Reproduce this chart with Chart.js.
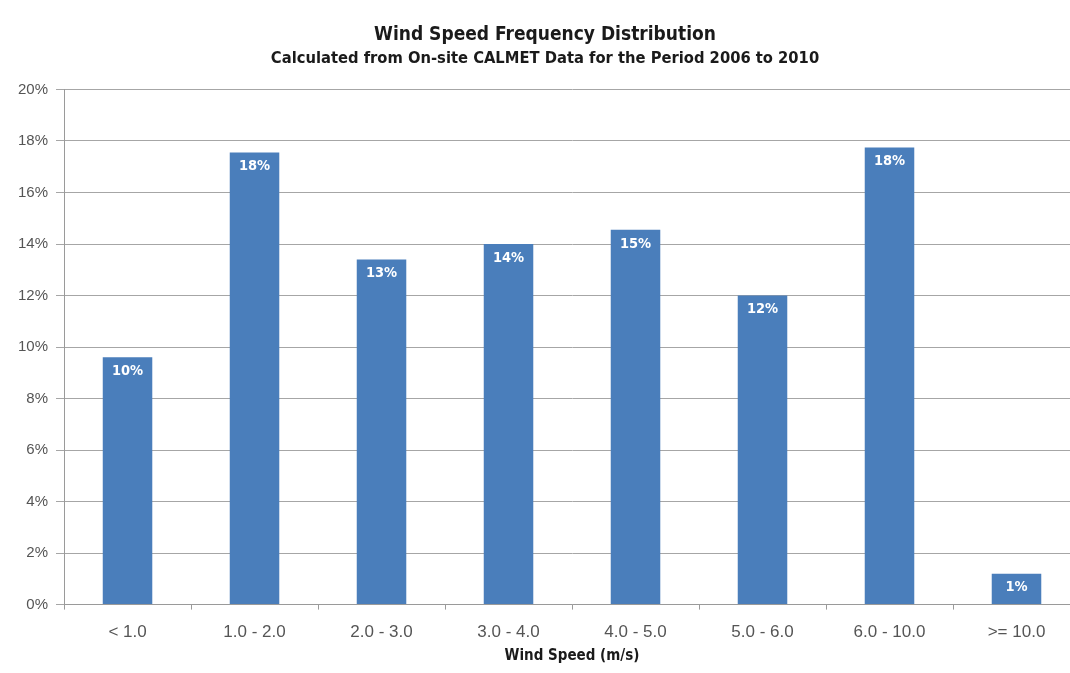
<!DOCTYPE html>
<html>
<head>
<meta charset="utf-8">
<script src="https://cdn.jsdelivr.net/npm/chart.js@4/dist/chart.umd.min.js"></script>
<style>
  html, body { margin: 0; padding: 0; background: #ffffff; }
  #wrap { width: 1070px; height: 673px; overflow: hidden; position: relative; }
  canvas { display: block; }
</style>
</head>
<body>
<div id="wrap"><canvas id="chart" width="1092" height="673"></canvas></div>
<script>
// Wind speed classes (m/s) and share of hours in each class (%)
const categories = ['< 1.0', '1.0 - 2.0', '2.0 - 3.0', '3.0 - 4.0', '4.0 - 5.0', '5.0 - 6.0', '6.0 - 10.0', '>= 10.0'];
const frequency = [9.6, 17.55, 13.4, 14.0, 14.55, 12.0, 17.75, 1.2];
const yTicks = [0, 2, 4, 6, 8, 10, 12, 14, 16, 18, 20];

const titleText = 'Wind Speed Frequency Distribution';
const subtitleText = 'Calculated from On-site CALMET Data for the Period 2006 to 2010';
const xTitle = 'Wind Speed (m/s)';

const narrow = '"DejaVu Sans Condensed", "Liberation Sans Narrow", "Liberation Sans", Arial, sans-serif';
const sans = '"Liberation Sans", Arial, sans-serif';

// White percentage labels inside the top of each bar
const barLabels = {
  id: 'barLabels',
  afterDatasetsDraw(chart) {
    const ctx = chart.ctx;
    const meta = chart.getDatasetMeta(0);
    ctx.save();
    ctx.fillStyle = '#ffffff';
    ctx.font = 'bold 14.5px ' + narrow;
    ctx.textAlign = 'center';
    ctx.textBaseline = 'middle';
    meta.data.forEach((bar, i) => {
      const v = chart.data.datasets[0].data[i];
      ctx.fillText(Math.round(v) + '%', bar.x, bar.y + 14);
    });
    ctx.restore();
  }
};

new Chart(document.getElementById('chart'), {
  type: 'bar',
  data: {
    labels: categories,
    datasets: [{
      data: frequency,
      backgroundColor: '#4a7ebb',
      borderWidth: 0,
      barPercentage: 0.39,
      categoryPercentage: 1.0
    }]
  },
  options: {
    responsive: false,
    devicePixelRatio: 1,
    animation: false,
    layout: { padding: { left: 10, right: 12, top: 16, bottom: 8 } },
    plugins: {
      legend: { display: false },
      tooltip: { enabled: false },
      title: {
        display: true,
        text: titleText,
        color: '#1a1a1a',
        font: { family: narrow, size: 19, weight: 'bold' },
        padding: { top: 8, bottom: 2 }
      },
      subtitle: {
        display: true,
        text: subtitleText,
        color: '#1a1a1a',
        font: { family: narrow, size: 16.4, weight: 'bold' },
        padding: { top: 0, bottom: 21 }
      }
    },
    scales: {
      x: {
        offset: true,
        grid: {
          offset: true,
          drawOnChartArea: false,
          drawTicks: true,
          tickLength: 5,
          color: '#9a9a9a'
        },
        border: { color: '#9a9a9a', width: 1 },
        ticks: {
          color: '#555555',
          font: { family: sans, size: 17 },
          padding: 13,
          maxRotation: 0
        },
        title: {
          display: true,
          text: xTitle,
          color: '#1a1a1a',
          font: { family: narrow, size: 15, weight: 'bold' },
          padding: { top: -9, bottom: 0 }
        }
      },
      y: {
        min: 0,
        max: 20,
        afterBuildTicks(axis) { axis.ticks = yTicks.map(v => ({ value: v })); },
        grid: {
          color: '#a6a6a6',
          lineWidth: 1,
          drawTicks: true,
          tickLength: 8
        },
        border: { color: '#9a9a9a', width: 1 },
        ticks: {
          color: '#555555',
          font: { family: sans, size: 15 },
          padding: 8,
          callback: v => v + '%'
        }
      }
    }
  },
  plugins: [barLabels]
});
</script>
</body>
</html>
